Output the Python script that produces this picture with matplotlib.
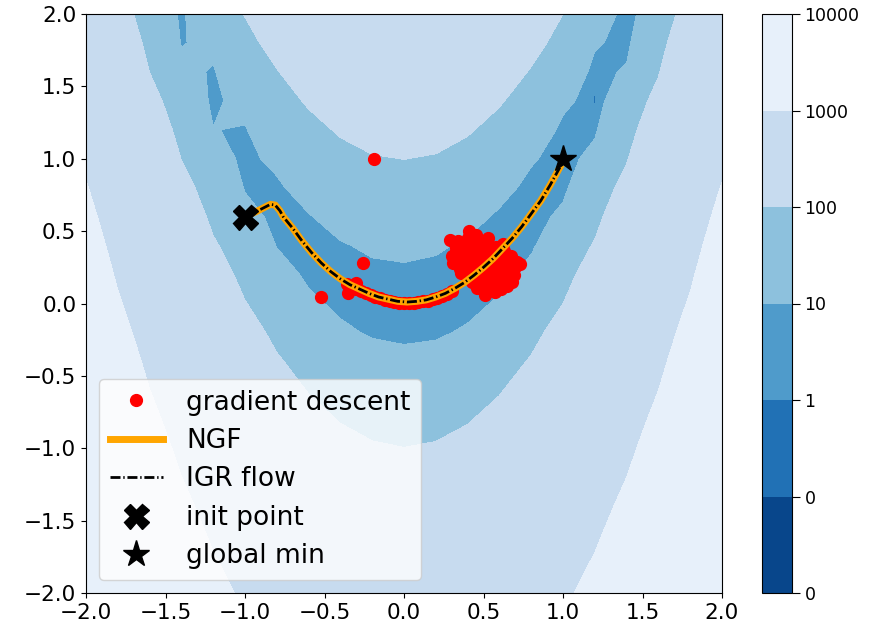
import numpy as np
import matplotlib
matplotlib.use("Agg")
import matplotlib.pyplot as plt
from matplotlib import colors, ticker

# Rosenbrock surface on a coarse grid (a=1, b=100)
grid_n = 21
ros_a, ros_b = 1.0, 100.0
levels = [0.01, 0.1, 1, 10, 100, 1000, 10000]

# gradient descent iterates
# stray early iterates
gd_stray_x = [-0.19, -0.52, -0.26, -0.35, -0.30]
gd_stray_y = [1.00, 0.045, 0.28, 0.07, 0.14]
# iterates creeping along the valley floor
gd_trail_x = [-0.36, -0.33, -0.30, -0.27, -0.24, -0.21, -0.18, -0.15, -0.12, -0.09, -0.06,
              -0.03, 0.00, 0.03, 0.06, 0.09, 0.12, 0.15, 0.18, 0.21, 0.24, 0.27, 0.30]
gd_trail_y = [0.132, 0.117, 0.102, 0.087, 0.072, 0.057, 0.045, 0.035, 0.027, 0.019, 0.012,
              0.006, 0.003, 0.002, 0.005, 0.008, 0.014, 0.020, 0.030, 0.041, 0.054, 0.069, 0.085]
# oscillating cloud around (0.5, 0.3)
gd_cloud_x = [0.41, 0.45, 0.29, 0.34, 0.40, 0.46, 0.53, 0.33, 0.38, 0.43, 0.48, 0.53, 0.58,
              0.30, 0.33, 0.38, 0.43, 0.48, 0.53, 0.58, 0.63, 0.67, 0.31, 0.36, 0.41, 0.46,
              0.51, 0.56, 0.61, 0.66, 0.71, 0.35, 0.40, 0.45, 0.50, 0.55, 0.60, 0.65, 0.70,
              0.73, 0.40, 0.45, 0.50, 0.55, 0.60, 0.65, 0.69, 0.43, 0.48, 0.53, 0.58, 0.63,
              0.68, 0.46, 0.51, 0.56, 0.61, 0.65, 0.51, 0.57, 0.36, 0.62]
gd_cloud_y = [0.50, 0.47, 0.44, 0.43, 0.45, 0.44, 0.45, 0.39, 0.41, 0.40, 0.39, 0.41, 0.39,
              0.33, 0.36, 0.35, 0.34, 0.36, 0.35, 0.34, 0.36, 0.33, 0.28, 0.30, 0.31, 0.29,
              0.30, 0.31, 0.29, 0.30, 0.29, 0.24, 0.25, 0.26, 0.24, 0.25, 0.26, 0.24, 0.25,
              0.27, 0.20, 0.21, 0.19, 0.20, 0.21, 0.19, 0.20, 0.15, 0.16, 0.14, 0.15, 0.16,
              0.15, 0.11, 0.10, 0.11, 0.10, 0.12, 0.06, 0.08, 0.21, 0.41]

# NGF trajectory
ngf_x = [-1.00, -0.92, -0.84, -0.81, -0.78, -0.76, -0.70, -0.64, -0.58, -0.52, -0.46, -0.40,
         -0.34, -0.28, -0.22, -0.16, -0.10, -0.04, 0.02, 0.08, 0.14, 0.20, 0.26, 0.32, 0.38,
         0.44, 0.50, 0.56, 0.62, 0.68, 0.74, 0.80, 0.86, 0.92, 0.98]
ngf_y = [0.60, 0.64, 0.685, 0.68, 0.64, 0.60, 0.52, 0.43, 0.35, 0.28, 0.22, 0.17,
         0.13, 0.10, 0.07, 0.045, 0.03, 0.015, 0.01, 0.015, 0.025, 0.045, 0.07, 0.105, 0.145,
         0.195, 0.25, 0.31, 0.38, 0.45, 0.53, 0.62, 0.71, 0.82, 0.94]

# IGR flow lies on top of the NGF curve in the picture
igr_x = list(ngf_x)
igr_y = list(ngf_y)

init_point = (-1.0, 0.6)
global_min = (1.0, 1.0)

xs = np.linspace(-2, 2, grid_n)
X, Y = np.meshgrid(xs, xs)
Z = (ros_a - X) ** 2 + ros_b * (Y - X ** 2) ** 2
Z = np.clip(Z, levels[0], None)

fig = plt.figure(figsize=(8.69, 6.29), dpi=100)
ax = fig.add_axes([86 / 869, 1 - 593 / 629, 636 / 869, 579 / 629])
cax = fig.add_axes([762 / 869, 1 - 593 / 629, 30 / 869, 579 / 629])

cs = ax.contourf(X, Y, Z, levels=levels, cmap="Blues_r",
                 norm=colors.LogNorm(vmin=levels[0], vmax=levels[-1]))
cb = fig.colorbar(cs, cax=cax, ticks=levels, format=ticker.FormatStrFormatter("%d"))
cb.ax.tick_params(labelsize=12.5, length=6, pad=3)

gd_x = gd_stray_x + gd_trail_x + gd_cloud_x
gd_y = gd_stray_y + gd_trail_y + gd_cloud_y
ax.plot(gd_x, gd_y, "o", color="red", markersize=8.5, label="gradient descent", zorder=3)
ax.plot(ngf_x, ngf_y, "-", color="orange", linewidth=5, label="NGF", zorder=4)
ax.plot(igr_x, igr_y, color="black", linewidth=2, linestyle=(0, (3.6, 1.0, 0.5, 1.0)),
        label="IGR flow", zorder=5)
ax.plot(*init_point, "X", color="black", markersize=18, linestyle="none", label="init point", zorder=6)
ax.plot(*global_min, "*", color="black", markersize=20, linestyle="none", label="global min", zorder=6)

ax.set_xlim(-2, 2)
ax.set_ylim(-2, 2)
ax.set_xticks(np.arange(-2, 2.01, 0.5))
ax.set_yticks(np.arange(-2, 2.01, 0.5))
ax.tick_params(labelsize=15.5)
ax.legend(loc="lower left", fontsize=19, handlelength=2.0, handletextpad=0.9, labelspacing=0.47)

fig.savefig("out.png", dpi=100)
